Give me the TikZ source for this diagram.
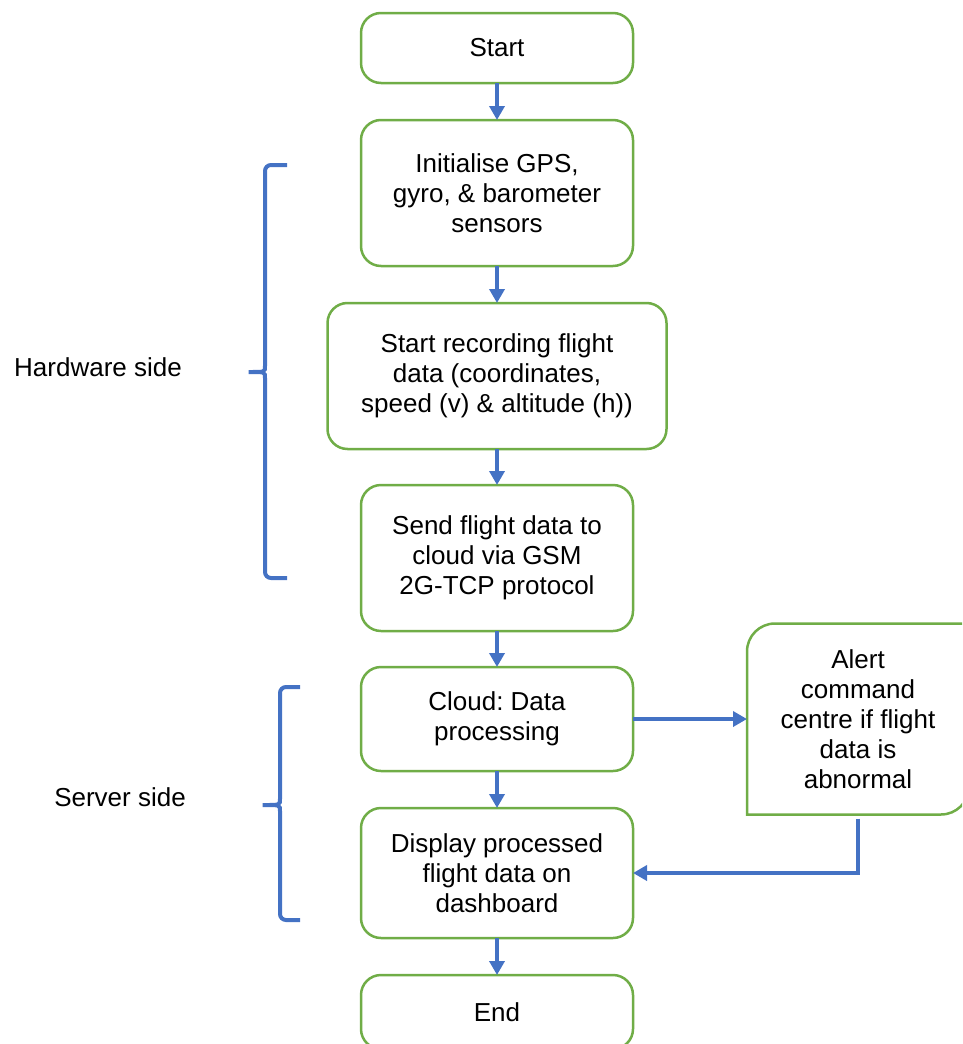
\documentclass[tikz,border=0pt]{standalone}
\usepackage{fontspec}
\setmainfont{Liberation Sans}
\usetikzlibrary{positioning,arrows.meta}

\definecolor{boxgreen}{HTML}{70AD47}
\definecolor{flowblue}{HTML}{4472C4}

\tikzset{
  stepbox/.style={draw=boxgreen, line width=2.5pt, rounded corners=20pt,
    fill=white, align=center, minimum width=272pt, inner sep=0pt, outer sep=0pt,
    font=\fontsize{26}{30}\selectfont},
  flow/.style={draw=flowblue, line width=4pt,
    -{Triangle[width=15pt,length=14pt]}},
  bracket/.style={draw=flowblue, line width=4pt, rounded corners=6pt},
  sidelabel/.style={font=\fontsize{26}{30}\selectfont}
}

\begin{document}
\frenchspacing
\begin{tikzpicture}[x=1pt,y=-1pt]
  \clip (0,0) rectangle (962,1044);

  \node[stepbox, minimum height=70pt] (start) at (497,48) {Start};
  \node[stepbox, minimum height=146pt, below=37pt of start] (init)
    {Initialise GPS,\\gyro, \& barometer\\sensors};
  \node[stepbox, minimum height=146pt, minimum width=339pt, below=37pt of init] (record)
    {Start recording flight\\data (coordinates,\\speed (v) \& altitude (h))};
  \node[stepbox, minimum height=146pt, below=36pt of record] (send)
    {Send flight data to\\cloud via GSM\\2G-TCP protocol};
  \node[stepbox, minimum height=104pt, below=36pt of send] (cloud)
    {Cloud: Data\\processing};
  \node[stepbox, minimum height=130pt, below=37pt of cloud] (display)
    {Display processed\\flight data on\\dashboard};
  \node[stepbox, minimum height=74pt, below=37pt of display] (end) {End};

  % alert box: only two corners rounded
  \node[stepbox, draw=none, fill=none, minimum width=222pt, minimum height=191pt,
    right=114pt of cloud] (alert)
    {Alert\\command\\centre if flight\\data is\\abnormal};
  \draw[draw=boxgreen, line width=2.5pt] (alert.south west)
    -- ([yshift=-28pt]alert.north west) arc[start angle=180, end angle=90, radius=28pt]
    -- (alert.north east)
    -- ([yshift=28pt]alert.south east) arc[start angle=0, end angle=-90, radius=28pt]
    -- cycle;

  \draw[flow] (start) -- (init);
  \draw[flow] (init) -- (record);
  \draw[flow] (record) -- (send);
  \draw[flow] (send) -- (cloud);
  \draw[flow] (cloud) -- (display);
  \draw[flow] (display) -- (end);
  \draw[flow] (cloud) -- (alert);
  \draw[flow] ([yshift=-4pt]alert.south) |- (display.east);

  % side brackets
  \draw[bracket] (287,165) -| (265,360) .. controls (265,372) .. (245,372)
    .. controls (265,372) .. (265,384) |- (287,578);
  \draw[bracket] (300,687) -| (280,793) .. controls (280,805) .. (259,805)
    .. controls (280,805) .. (280,817) |- (300,920);

  \node[sidelabel] (hardware) at (98,367) {Hardware side};
  \node[sidelabel] (server) at (120,797) {Server side};
\end{tikzpicture}
\end{document}
